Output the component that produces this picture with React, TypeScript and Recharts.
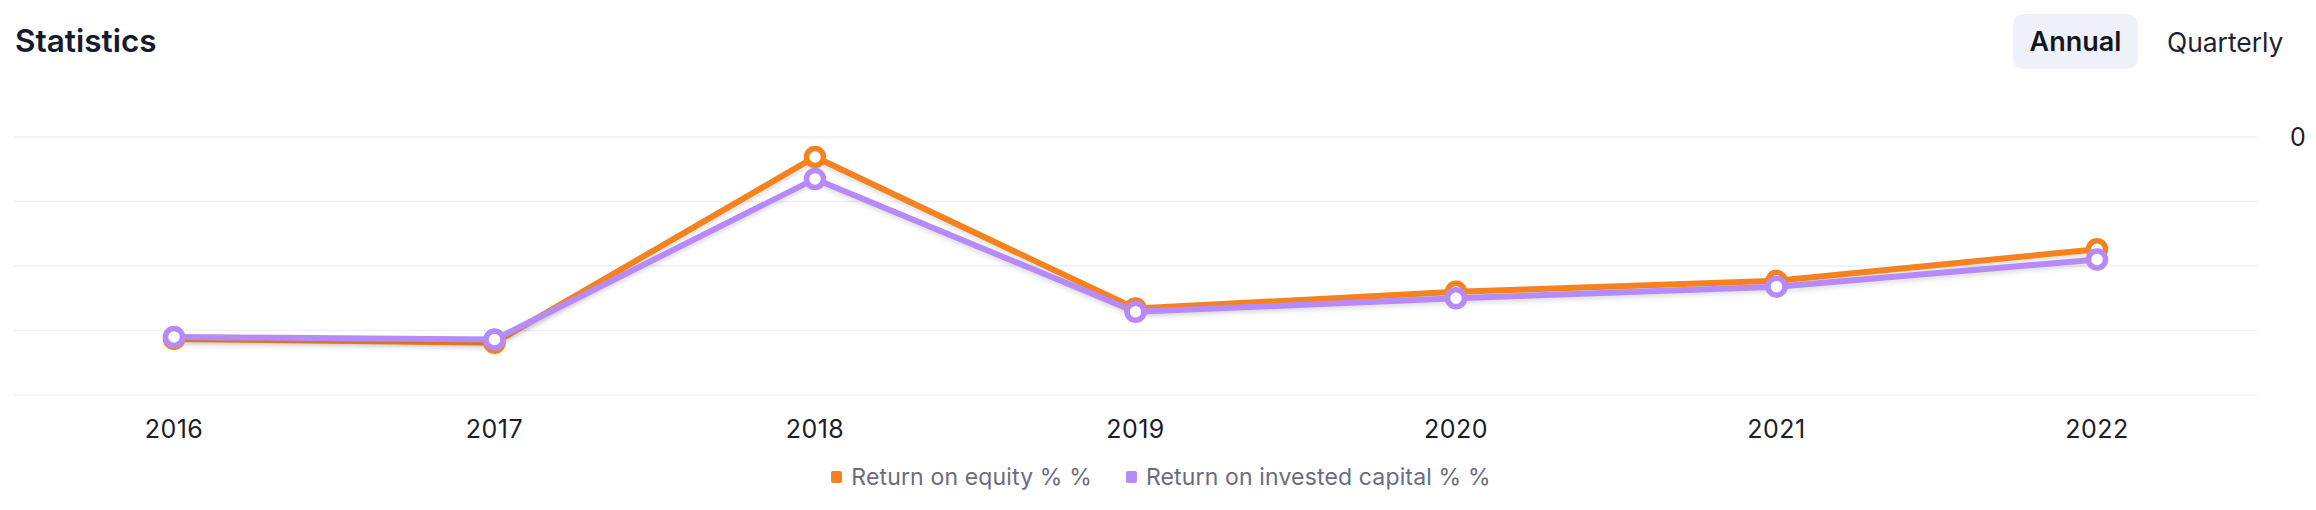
import React from "react";
import {
  LineChart,
  Line,
  XAxis,
  YAxis,
  CartesianGrid,
  Legend,
} from "recharts";

const years = ["2016", "2017", "2018", "2019", "2020", "2021", "2022"];
const returnOnEquity = [-31.3, -31.9, -3.1, -26.6, -24.0, -22.3, -17.4];
const returnOnInvestedCapital = [-31.0, -31.4, -6.5, -27.1, -25.0, -23.2, -19.0];
const yTicks = [-40, -30, -20, -10, 0];

const seriesNames = ["Return on equity % %", "Return on invested capital % %"];
const seriesColors = ["#f5821f", "#b68af9"];

const data = years.map((year, i) => ({
  year,
  roe: returnOnEquity[i],
  roic: returnOnInvestedCapital[i],
}));

const font = "Inter, 'Noto Sans', sans-serif";

function LegendContent() {
  return (
    <div
      style={{
        display: "flex",
        justifyContent: "center",
        alignItems: "center",
        gap: 34,
        height: 30,
        fontFamily: font,
        fontSize: 23,
        letterSpacing: 0.15,
        color: "#6b6c7b",
      }}
    >
      {seriesNames.map((name, i) => (
        <div key={name} style={{ display: "flex", alignItems: "center", gap: 9 }}>
          <span
            style={{
              width: 11,
              height: 12,
              borderRadius: 2,
              background: seriesColors[i],
              display: "inline-block",
            }}
          />
          <span>{name}</span>
        </div>
      ))}
    </div>
  );
}

export default function App() {
  return (
    <div style={{ position: "relative", width: 2300, height: 492, fontFamily: font }}>
      <style>{`.recharts-line-curve { filter: drop-shadow(0 3px 2px rgba(0,0,0,0.12)); }`}</style>
      <div
        style={{
          position: "absolute",
          left: 7,
          top: 13,
          fontSize: 31.5,
          fontWeight: 600,
          color: "#161a2b",
          lineHeight: "40px",
        }}
      >
        Statistics
      </div>
      <div
        style={{
          position: "absolute",
          left: 2005,
          top: 6,
          width: 125,
          height: 55,
          borderRadius: 10,
          background: "#eef1f9",
          display: "flex",
          alignItems: "center",
          justifyContent: "center",
          fontSize: 27,
          fontWeight: 600,
          color: "#14161f",
        }}
      >
        Annual
      </div>
      <div
        style={{
          position: "absolute",
          left: 2159,
          top: 6,
          height: 55,
          display: "flex",
          alignItems: "center",
          fontSize: 26.4,
          color: "#1f2230",
        }}
      >
        Quarterly
      </div>
      <div style={{ position: "absolute", left: 0, top: 0 }}>
        <LineChart
          width={2300}
          height={492}
          data={data}
          margin={{ top: 129, right: 0, bottom: 8, left: 6 }}
          style={{ fontFamily: font }}
        >
          <CartesianGrid vertical={false} stroke="#eef0f6" strokeWidth={1.5} />
          <XAxis
            dataKey="year"
            axisLine={false}
            tickLine={false}
            height={67}
            tickMargin={19}
            padding={{ left: 160, right: 160 }}
            tick={{ fill: "#1b1d28", fontSize: 25, letterSpacing: 0.5 }}
          />
          <YAxis
            orientation="right"
            width={51}
            domain={[-40, 0]}
            ticks={yTicks}
            axisLine={false}
            tickLine={false}
            tickMargin={27}
            tickFormatter={(v: number) => (v === 0 ? "0" : "")}
            tick={{ fill: "#1b1d28", fontSize: 25 }}
          />
          <Legend verticalAlign="bottom" height={30} content={<LegendContent />} />
          <Line
            type="linear"
            dataKey="roe"
            name={seriesNames[0]}
            stroke={seriesColors[0]}
            strokeWidth={6}
            dot={{ r: 8.5, strokeWidth: 5.5, fill: "#fff", stroke: seriesColors[0] }}
            activeDot={false}
            isAnimationActive={false}
          />
          <Line
            type="linear"
            dataKey="roic"
            name={seriesNames[1]}
            stroke={seriesColors[1]}
            strokeWidth={6}
            dot={{ r: 8.5, strokeWidth: 5.5, fill: "#fff", stroke: seriesColors[1] }}
            activeDot={false}
            isAnimationActive={false}
          />
        </LineChart>
      </div>
    </div>
  );
}
